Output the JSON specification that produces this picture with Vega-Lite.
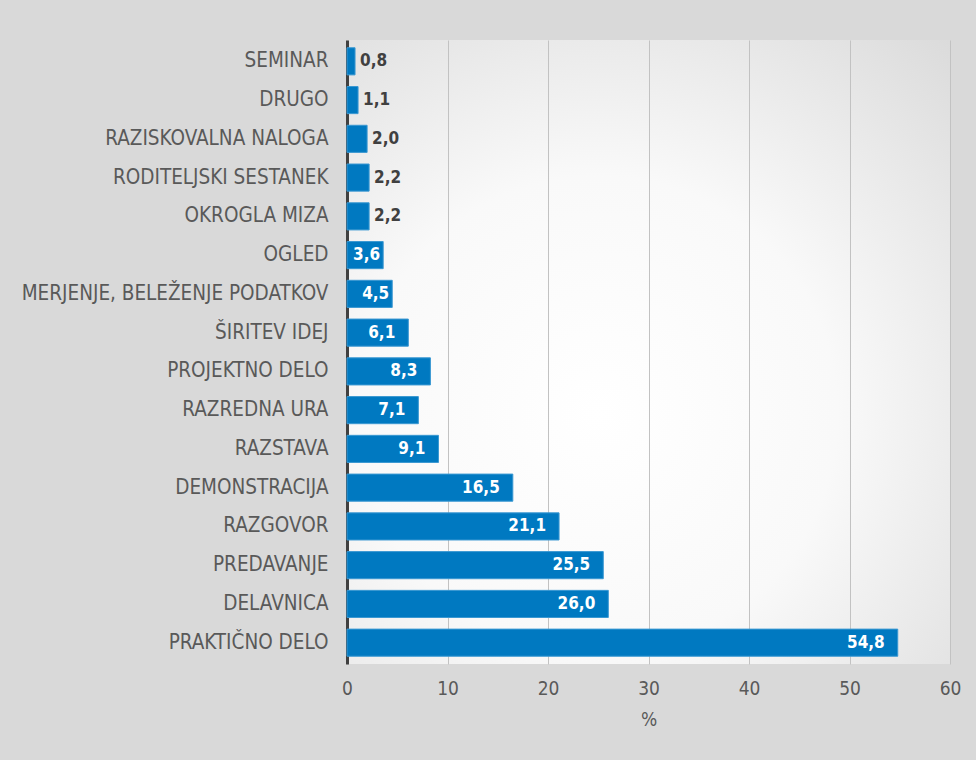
{
  "$schema": "https://vega.github.io/schema/vega-lite/v6.json",
  "width": 603,
  "height": 624,
  "autosize": {"type": "none"},
  "padding": {"left": 347, "top": 40, "right": 26, "bottom": 96},
  "background": "#d9d9d9",
  "view": {
    "stroke": null,
    "fill": {
      "gradient": "radial",
      "x1": 0.42, "y1": 0.6, "r1": 0,
      "x2": 0.42, "y2": 0.6, "r2": 0.85,
      "stops": [
        {"offset": 0, "color": "#ffffff"},
        {"offset": 0.45, "color": "#f9f9f9"},
        {"offset": 1, "color": "#d9d9d9"}
      ]
    }
  },
  "config": {
    "locale": {"number": {"decimal": ",", "thousands": ".", "grouping": [3], "currency": ["", " €"]}},
    "font": "DejaVu Sans Condensed, Roboto"
  },
  "data": {
    "values": [
      {"oblika": "SEMINAR", "delez": 0.8},
      {"oblika": "DRUGO", "delez": 1.1},
      {"oblika": "RAZISKOVALNA NALOGA", "delez": 2.0},
      {"oblika": "RODITELJSKI SESTANEK", "delez": 2.2},
      {"oblika": "OKROGLA MIZA", "delez": 2.2},
      {"oblika": "OGLED", "delez": 3.6},
      {"oblika": "MERJENJE, BELEŽENJE PODATKOV", "delez": 4.5},
      {"oblika": "ŠIRITEV IDEJ", "delez": 6.1},
      {"oblika": "PROJEKTNO DELO", "delez": 8.3},
      {"oblika": "RAZREDNA URA", "delez": 7.1},
      {"oblika": "RAZSTAVA", "delez": 9.1},
      {"oblika": "DEMONSTRACIJA", "delez": 16.5},
      {"oblika": "RAZGOVOR", "delez": 21.1},
      {"oblika": "PREDAVANJE", "delez": 25.5},
      {"oblika": "DELAVNICA", "delez": 26.0},
      {"oblika": "PRAKTIČNO DELO", "delez": 54.8}
    ]
  },
  "encoding": {
    "y": {
      "field": "oblika",
      "type": "nominal",
      "sort": null,
      "scale": {"paddingInner": 0.3, "paddingOuter": 0.2},
      "axis": {
        "title": null,
        "ticks": false,
        "domainColor": "#404040",
        "domainWidth": 3,
        "labelFont": "DejaVu Sans Condensed, Roboto",
        "labelFontSize": 20.5,
        "labelColor": "#595959",
        "labelPadding": 19,
        "labelLimit": 400
      }
    }
  },
  "layer": [
    {
      "mark": {"type": "bar", "color": "#0079c1", "stroke": "#3a98d2", "strokeWidth": 1},
      "encoding": {
        "x": {
          "field": "delez",
          "type": "quantitative",
          "scale": {"domain": [0, 60], "nice": false},
          "axis": {
            "title": "%",
            "values": [0, 10, 20, 30, 40, 50, 60],
            "domain": false,
            "ticks": false,
            "grid": true,
            "gridColor": "#c2c2c2",
            "gridWidth": 1,
            "labelFlush": false,
            "labelFont": "DejaVu Sans Condensed, Roboto",
            "labelFontSize": 19,
            "labelColor": "#595959",
            "labelPadding": 15,
            "titleFont": "DejaVu Sans Condensed, Roboto",
            "titleFontSize": 19,
            "titleFontWeight": "normal",
            "titleColor": "#595959",
            "titlePadding": 12
          }
        }
      }
    },
    {
      "transform": [{"filter": "datum.delez >= 5"}],
      "mark": {"type": "text", "align": "right", "baseline": "middle", "dx": -13, "fontWeight": "bold", "fontSize": 17, "font": "DejaVu Sans Condensed, Roboto", "color": "#ffffff"},
      "encoding": {
        "x": {"field": "delez", "type": "quantitative"},
        "text": {"field": "delez", "type": "quantitative", "format": ".1f"}
      }
    },
    {
      "transform": [{"filter": "datum.delez >= 3 && datum.delez < 5"}],
      "mark": {"type": "text", "align": "right", "baseline": "middle", "dx": -3, "fontWeight": "bold", "fontSize": 17, "font": "DejaVu Sans Condensed, Roboto", "color": "#ffffff"},
      "encoding": {
        "x": {"field": "delez", "type": "quantitative"},
        "text": {"field": "delez", "type": "quantitative", "format": ".1f"}
      }
    },
    {
      "transform": [{"filter": "datum.delez < 3"}],
      "mark": {"type": "text", "align": "left", "baseline": "middle", "dx": 5, "fontWeight": "bold", "fontSize": 17, "font": "DejaVu Sans Condensed, Roboto", "color": "#404040"},
      "encoding": {
        "x": {"field": "delez", "type": "quantitative"},
        "text": {"field": "delez", "type": "quantitative", "format": ".1f"}
      }
    }
  ]
}
